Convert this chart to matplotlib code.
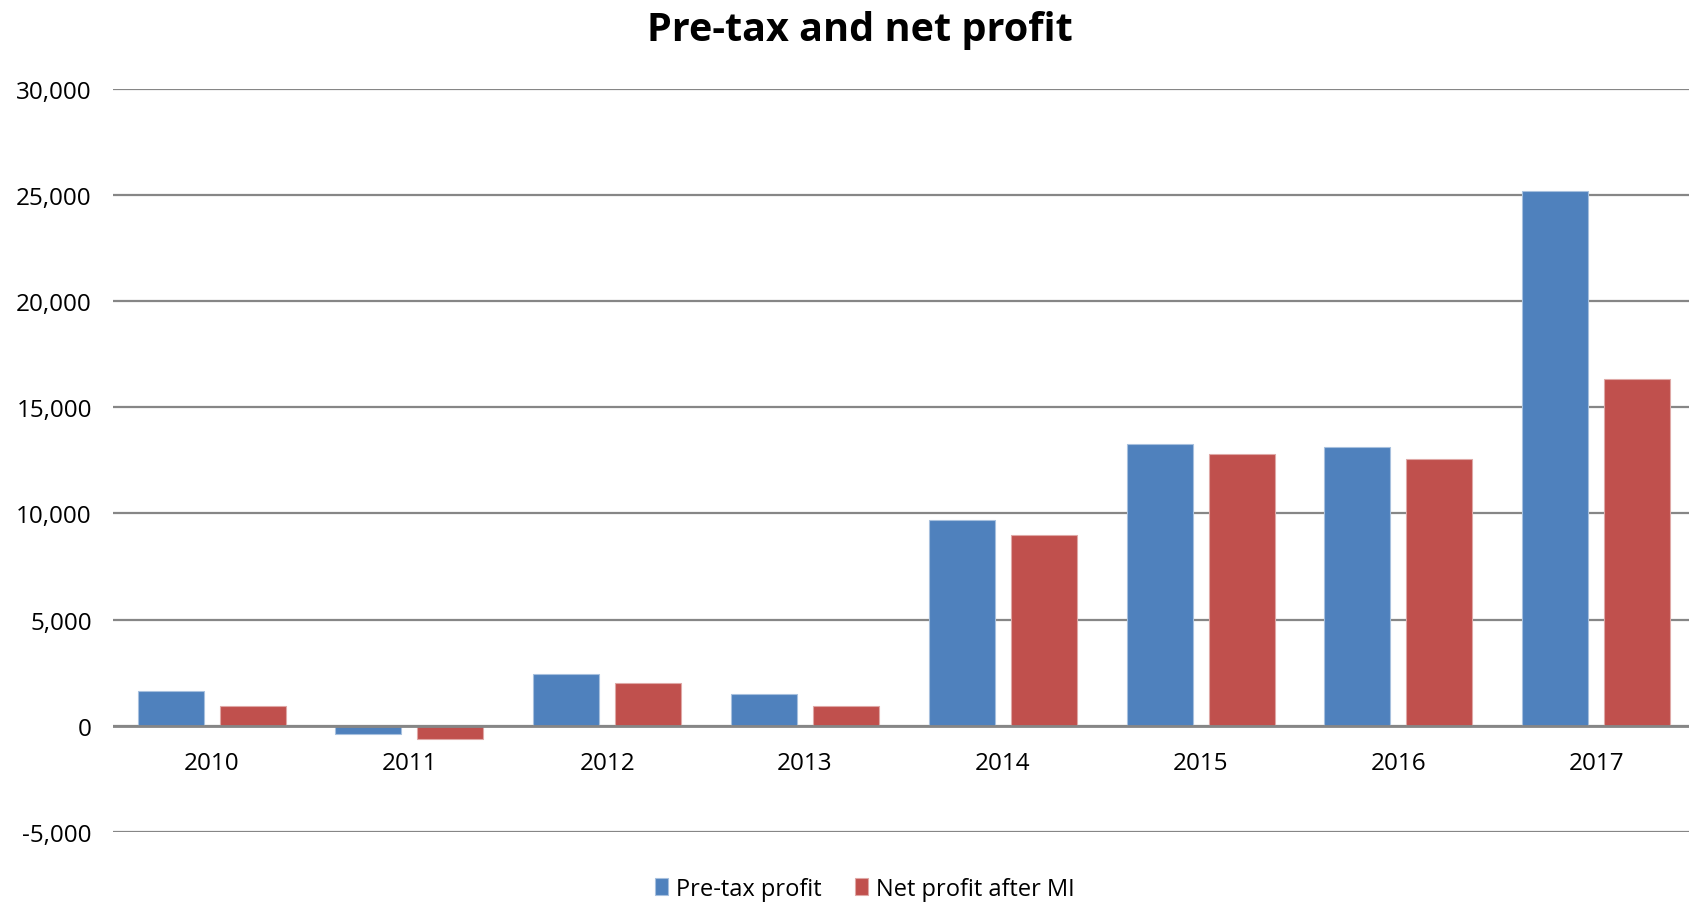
import matplotlib
matplotlib.use("Agg")
import matplotlib.pyplot as plt
import numpy as np
from matplotlib.ticker import FuncFormatter

years = ["2010", "2011", "2012", "2013", "2014", "2015", "2016", "2017"]
pretax_profit = [1620, -390, 2440, 1490, 9690, 13260, 13130, 25160]
net_profit_after_mi = [940, -600, 2010, 940, 8970, 12790, 12560, 16330]

series_names = ["Pre-tax profit", "Net profit after MI"]
colors = ["#4F81BD", "#C0504D"]
edge_colors = ["#A7C0DE", "#DFA8A6"]

plt.rcParams["font.family"] = ["Open Sans", "DejaVu Sans"]

W, H = 1690, 903
fig = plt.figure(figsize=(W / 100, H / 100), dpi=100)
ax_left, ax_right = 112.7, 1695.1
ax_top, ax_bottom = 89.5, 833.0
ax = fig.add_axes([ax_left / W, (H - ax_bottom) / H,
                   (ax_right - ax_left) / W, (ax_bottom - ax_top) / H])

x = np.arange(len(years))
bar_w = 0.334
offset = 0.207
ax.bar(x - offset, pretax_profit, width=bar_w, color=colors[0],
       edgecolor=edge_colors[0], linewidth=0.8, label=series_names[0], zorder=3)
ax.bar(x + offset, net_profit_after_mi, width=bar_w, color=colors[1],
       edgecolor=edge_colors[1], linewidth=0.8, label=series_names[1], zorder=3)

ax.set_xlim(-0.5, len(years) - 0.5)
ax.set_ylim(-5000, 30000)
ax.set_yticks(np.arange(-5000, 30001, 5000))
ax.yaxis.set_major_formatter(FuncFormatter(lambda v, p: f"{int(v):,}"))
ax.grid(axis="y", color="#868686", linewidth=1.6, zorder=0)
ax.axhline(0, color="#868686", linewidth=2.0, zorder=4)

for s in ax.spines.values():
    s.set_visible(False)

ax.set_xticks(x)
ax.set_xticklabels([])
ax.tick_params(axis="x", length=0)
ax.tick_params(axis="y", length=0, labelsize=17.5, pad=15)

# year labels sit just below the zero line
for xi, yr in zip(x, years):
    ax.annotate(yr, xy=(xi, 0), xycoords="data", xytext=(0, -37),
                textcoords="offset pixels", ha="center", va="center",
                fontsize=17.5, color="black")

fig.text(860 / W, 1 - 31 / H, "Pre-tax and net profit", ha="center", va="center",
         fontsize=28.5, fontweight="bold")

fig.legend(loc="center", bbox_to_anchor=(865 / W, 1 - 890 / H), ncol=2,
           frameon=False, fontsize=17, handlelength=0.55, handleheight=0.75,
           handletextpad=0.35, columnspacing=1.4, borderaxespad=0)

fig.savefig("out.png", dpi=100)
